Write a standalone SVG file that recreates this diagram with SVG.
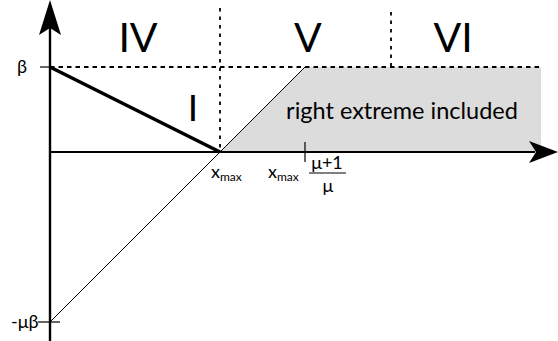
<svg xmlns="http://www.w3.org/2000/svg" width="558" height="341" viewBox="0 0 558 341">
<style>
text{font-family:Lato,"Liberation Sans",sans-serif;fill:#000}
.big{font-size:41px;text-anchor:middle}
.lbl{font-size:18px}
.sub{font-size:12px}
.dash{stroke:#000;stroke-width:1.8;fill:none}
</style>
<rect width="558" height="341" fill="#fff"/>
<g id="region">
<polygon points="220,152 305,67 541,67 541,152" fill="#dcdcdc"/>
</g>
<g id="guides">
<line class="dash" x1="50" y1="67" x2="541" y2="67" stroke-dasharray="4.5,4"/>
<line class="dash" x1="220" y1="8" x2="220" y2="152" stroke-dasharray="3.5,5"/>
<line class="dash" x1="391" y1="12" x2="391" y2="67" stroke-dasharray="3.5,5"/>
</g>
<g id="connectors">
<line x1="50" y1="322" x2="305" y2="67" stroke="#000" stroke-width="1"/>
<line x1="50" y1="67" x2="220" y2="152" stroke="#000" stroke-width="3.5"/>
<line x1="50" y1="152" x2="535" y2="152" stroke="#000" stroke-width="2"/>
<line x1="50" y1="341" x2="50" y2="28" stroke="#000" stroke-width="2.4"/>
<polygon points="50,0 61,35 50,28 39,35" fill="#000"/>
<polygon points="558,152 529,163 536,152 529,141" fill="#000"/>
<line x1="40" y1="67" x2="50" y2="67" stroke="#000" stroke-width="1.2"/>
<line x1="38" y1="322" x2="60" y2="322" stroke="#000" stroke-width="1.2"/>
<line x1="305" y1="142" x2="305" y2="162" stroke="#000" stroke-width="1.2"/>
<line x1="309" y1="173" x2="346" y2="173" stroke="#000" stroke-width="1"/>
</g>
<g id="labels">
<text class="big" x="138" y="52">IV</text>
<text class="big" x="308" y="52">V</text>
<text class="big" x="453" y="52">VI</text>
<text class="big" x="193" y="121" style="font-size:37px">I</text>
<text x="402" y="119" style="font-size:23.5px;text-anchor:middle">right extreme included</text>
<text class="lbl" x="17" y="73">β</text>
<text class="lbl" x="11" y="328">-μβ</text>
<text class="lbl" x="211" y="178">x<tspan class="sub" dy="3">max</tspan></text>
<text class="lbl" x="268" y="178">x<tspan class="sub" dy="3">max</tspan></text>
<text class="lbl" x="327" y="169" style="text-anchor:middle">μ+1</text>
<text class="lbl" x="328" y="192" style="text-anchor:middle">μ</text>
</g>
</svg>
